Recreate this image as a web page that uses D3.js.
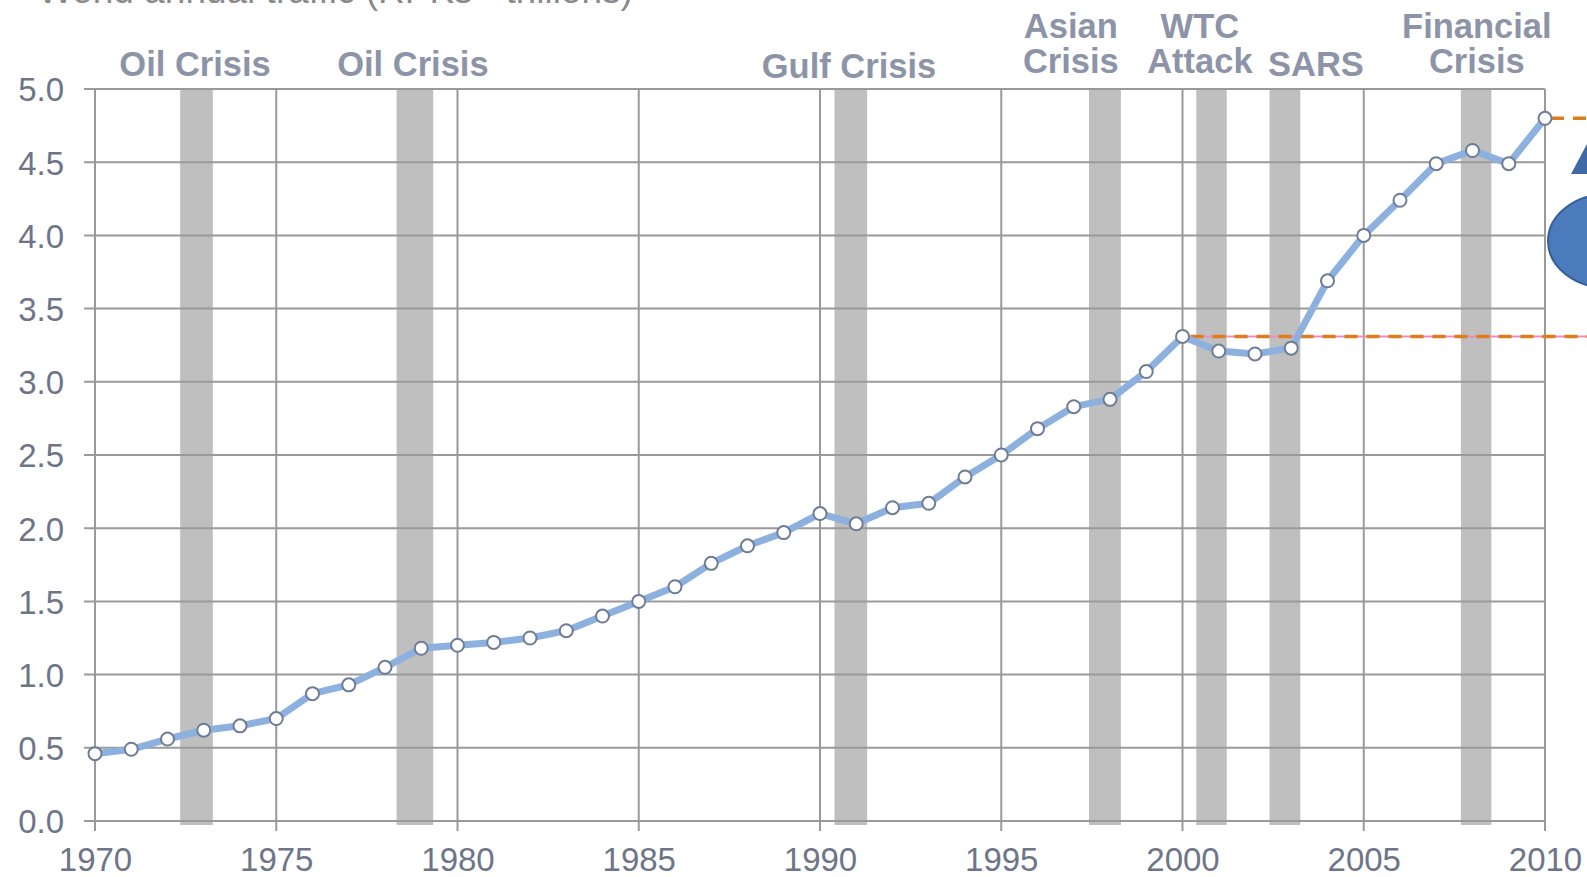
<!DOCTYPE html>
<html lang="en">
<head>
    <meta charset="UTF-8">
    <title>World annual traffic</title>
    <script src="https://cdnjs.cloudflare.com/ajax/libs/d3/7.8.5/d3.min.js"></script>
    <style>
        body { margin: 0; background: #fff; overflow: hidden; }
        svg { display: block; font-family: "Liberation Sans", Arial, sans-serif; }
    </style>
</head>
<body>
<svg width="1587" height="877"></svg>
<script>
    // traffic, RPKs in trillions
    const years = [1970, 1971, 1972, 1973, 1974, 1975, 1976, 1977, 1978, 1979,
        1980, 1981, 1982, 1983, 1984, 1985, 1986, 1987, 1988, 1989,
        1990, 1991, 1992, 1993, 1994, 1995, 1996, 1997, 1998, 1999,
        2000, 2001, 2002, 2003, 2004, 2005, 2006, 2007, 2008, 2009, 2010];
    const traffic = [0.46, 0.49, 0.56, 0.62, 0.65, 0.70, 0.87, 0.93, 1.05, 1.18,
        1.20, 1.22, 1.25, 1.30, 1.40, 1.50, 1.60, 1.76, 1.88, 1.97,
        2.10, 2.03, 2.14, 2.17, 2.35, 2.50, 2.68, 2.83, 2.88, 3.07,
        3.31, 3.21, 3.19, 3.23, 3.69, 4.00, 4.24, 4.49, 4.58, 4.49, 4.80];

    // crisis periods (shaded bands)
    const crisisNames = [["Oil Crisis"], ["Oil Crisis"], ["Gulf Crisis"], ["Asian", "Crisis"],
        ["WTC", "Attack"], ["SARS"], ["Financial", "Crisis"]];
    const crisisStart = [1972.35, 1978.32, 1990.4, 1997.42, 2000.38, 2002.4, 2007.68];
    const crisisEnd = [1973.25, 1979.33, 1991.3, 1998.3, 2001.22, 2003.25, 2008.52];
    const crisisLabelYear = [1972.76, 1978.77, 1990.8, 1996.92, 2000.48, 2003.68, 2008.12];

    const xTicks = [1970, 1975, 1980, 1985, 1990, 1995, 2000, 2005, 2010];
    const yTicks = [0, 0.5, 1, 1.5, 2, 2.5, 3, 3.5, 4, 4.5, 5];

    const svg = d3.select("svg");
    const W = 1587;
    const x = d3.scaleLinear().domain([1970, 2010]).range([95, 1545]);
    const y = d3.scaleLinear().domain([0, 5]).range([821, 89]);

    // title, cut off at the top edge
    svg.append("text")
        .attr("x", 38).attr("y", 3)
        .attr("font-size", 37).attr("fill", "#8a8a8a")
        .text("World annual traffic (RPKs - trillions)");

    // bands
    svg.append("g").selectAll("rect")
        .data(crisisStart)
        .join("rect")
        .attr("x", d => x(d))
        .attr("width", (d, i) => x(crisisEnd[i]) - x(d))
        .attr("y", y(5))
        .attr("height", y(0) - y(5) + 4)
        .attr("fill", "#bfbfbf");

    // grid
    svg.append("g").selectAll("line")
        .data(yTicks)
        .join("line")
        .attr("x1", 84).attr("x2", x(2010))
        .attr("y1", d => y(d)).attr("y2", d => y(d))
        .attr("stroke", "#9a9a9a").attr("stroke-width", 2);

    svg.append("g").selectAll("line")
        .data(xTicks)
        .join("line")
        .attr("x1", d => x(d)).attr("x2", d => x(d))
        .attr("y1", y(5)).attr("y2", y(0) + 10)
        .attr("stroke", "#9a9a9a").attr("stroke-width", 2);

    // axes labels
    const yAxis = d3.axisLeft(y).tickValues(yTicks).tickFormat(d3.format(".1f")).tickSize(0).tickPadding(0);
    const gy = svg.append("g").attr("transform", "translate(64,0)").call(yAxis);
    gy.select(".domain").remove();
    gy.selectAll("text")
        .attr("font-size", 33).attr("fill", "#6e7588")
        .attr("font-family", "Liberation Sans, Arial, sans-serif")
        .attr("dy", "0.36em");

    const xAxis = d3.axisBottom(x).tickValues(xTicks).tickFormat(d3.format("d")).tickSize(0).tickPadding(0);
    const gx = svg.append("g").attr("transform", "translate(0,871)").call(xAxis);
    gx.select(".domain").remove();
    gx.selectAll("text")
        .attr("font-size", 33).attr("fill", "#6e7588")
        .attr("font-family", "Liberation Sans, Arial, sans-serif")
        .attr("dy", 0);

    // reference lines going off to the right
    const last = traffic[traffic.length - 1];
    const y2000 = traffic[years.indexOf(2000)];
    svg.append("line")
        .attr("x1", x(2000)).attr("x2", W)
        .attr("y1", y(y2000)).attr("y2", y(y2000))
        .attr("stroke", "#e58fc4").attr("stroke-width", 2);
    svg.append("line")
        .attr("x1", x(2000) + 8).attr("x2", W)
        .attr("y1", y(y2000)).attr("y2", y(y2000))
        .attr("stroke", "#dd7d1e").attr("stroke-width", 3.5)
        .attr("stroke-dasharray", "13 9");
    svg.append("line")
        .attr("x1", x(2010) + 6).attr("x2", W)
        .attr("y1", y(last)).attr("y2", y(last))
        .attr("stroke", "#dd7d1e").attr("stroke-width", 3.5)
        .attr("stroke-dasharray", "13 9");

    // traffic line
    const line = d3.line().x((d, i) => x(years[i])).y(d => y(d));
    svg.append("path")
        .datum(traffic)
        .attr("d", line)
        .attr("fill", "none")
        .attr("stroke", "#8db1df")
        .attr("stroke-width", 7)
        .attr("stroke-linejoin", "round");

    svg.append("g").selectAll("circle")
        .data(traffic)
        .join("circle")
        .attr("cx", (d, i) => x(years[i]))
        .attr("cy", d => y(d))
        .attr("r", 6.5)
        .attr("fill", "#fff")
        .attr("stroke", "#6f7c96")
        .attr("stroke-width", 2);

    // crisis labels
    const lab = svg.append("g")
        .attr("font-size", 34.5).attr("font-weight", "bold")
        .attr("fill", "#8d94a8").attr("text-anchor", "middle");
    crisisNames.forEach((lines, i) => {
        const t = lab.append("text").attr("x", x(crisisLabelYear[i]));
        lines.forEach((s, j) => {
            const base = lines.length === 2 ? 38 + j * 35 : (i === 2 ? 78 : 76);
            t.append("tspan").attr("x", x(crisisLabelYear[i])).attr("y", base).text(s);
        });
    });

    // cropped callout shape on the right edge
    svg.append("ellipse")
        .attr("cx", 1608).attr("cy", 241)
        .attr("rx", 60).attr("ry", 47)
        .attr("fill", "#4b7bbd").attr("stroke", "#365f97").attr("stroke-width", 2);
    svg.append("path")
        .attr("d", "M1571,174 L1587,144 L1587,174 Z")
        .attr("fill", "#3f6aa6");
</script>
</body>
</html>
